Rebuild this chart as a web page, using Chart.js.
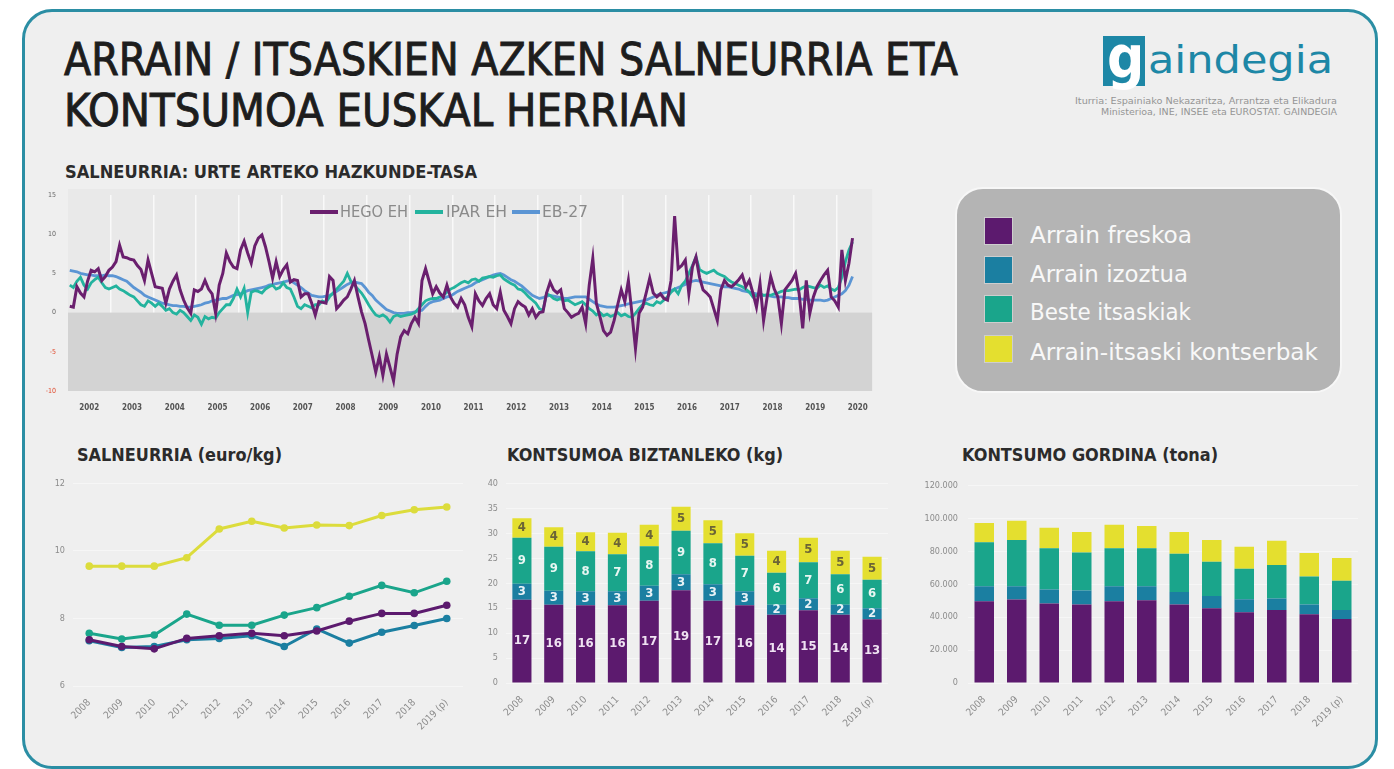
<!DOCTYPE html>
<html>
<head>
<meta charset="utf-8">
<script src="https://cdn.jsdelivr.net/npm/chart.js"></script>
<style>
  body { margin: 0; width: 1394px; height: 769px; background: #fff; overflow: hidden;
         font-family: "DejaVu Sans Condensed", "DejaVu Sans", sans-serif; }
  #card { position: absolute; left: 22px; top: 9px; width: 1350px; height: 754px;
          border: 3px solid #2b8ea4; border-radius: 30px; background: #efefef; }
  .t { position: absolute; white-space: nowrap; line-height: 1; transform-origin: 0 0; }
  .box { position: absolute; }
  .sq { position: absolute; width: 27px; height: 26px; box-shadow: 0 0 0 1px rgba(255,255,255,0.35); }
  .ln { position: absolute; height: 3px; }
</style>
</head>
<body>
<div id="card"></div>

<div class="t" data-w="894" style="left:64px;top:37px;font-size:45px;color:#1d1d1d;-webkit-text-stroke:0.9px #1d1d1d">ARRAIN / ITSASKIEN AZKEN SALNEURRIA ETA</div>
<div class="t" data-w="624" style="left:64px;top:88px;font-size:45px;color:#1d1d1d;-webkit-text-stroke:0.9px #1d1d1d">KONTSUMOA EUSKAL HERRIAN</div>

<div class="box" style="left:1103px;top:36px;width:42px;height:50px;background:#1d87a6;overflow:visible">
  <div class="t" style="left:4px;top:-7px;font-size:58px;font-weight:bold;color:#fff">g</div>
</div>
<div class="t" data-w="185" style="left:1148px;top:42px;font-size:37px;color:#1d87a6">aindegia</div>
<div class="t" data-w="262" style="left:1075px;top:98px;font-size:8px;color:#959595">Iturria: Espainiako Nekazaritza, Arrantza eta Elikadura</div>
<div class="t" data-w="236" style="left:1101px;top:109px;font-size:8px;color:#959595">Ministerioa, INE, INSEE eta EUROSTAT. GAINDEGIA</div>

<div class="t" data-w="412" style="left:65px;top:164px;font-size:17px;font-weight:bold;color:#2b2b2b">SALNEURRIA: URTE ARTEKO HAZKUNDE-TASA</div>

<div class="box" style="left:40px;top:185px;width:840px;height:234px"><canvas id="topChart"></canvas></div>

<div class="ln" style="left:310px;top:210px;width:28px;height:4px;background:#6a1f6e"></div>
<div class="t" data-w="68" style="left:340px;top:204px;font-size:16px;color:#8a8a8a">HEGO EH</div>
<div class="ln" style="left:415px;top:210px;width:28px;height:4px;background:#23b39e"></div>
<div class="t" data-w="61" style="left:446px;top:204px;font-size:16px;color:#8a8a8a">IPAR EH</div>
<div class="ln" style="left:512px;top:210px;width:28px;height:4px;background:#5b95d4"></div>
<div class="t" data-w="46" style="left:542px;top:204px;font-size:16px;color:#8a8a8a">EB-27</div>

<div class="box" style="left:955px;top:187px;width:383px;height:202px;background:#b4b4b4;border:2px solid #f7f7f7;border-radius:28px"></div>
<div class="sq" style="left:985px;top:218px;background:#5c1a6e"></div>
<div class="sq" style="left:985px;top:257px;background:#1b7fa1"></div>
<div class="sq" style="left:985px;top:296px;background:#1aa58b"></div>
<div class="sq" style="left:985px;top:336px;background:#e4df2f"></div>
<div class="t" data-w="162" style="left:1030px;top:224px;font-size:23px;color:#f8f8f8">Arrain freskoa</div>
<div class="t" data-w="158" style="left:1030px;top:263px;font-size:23px;color:#f8f8f8">Arrain izoztua</div>
<div class="t" data-w="161" style="left:1030px;top:301px;font-size:23px;color:#f8f8f8">Beste itsaskiak</div>
<div class="t" data-w="288" style="left:1030px;top:341px;font-size:23px;color:#f8f8f8">Arrain-itsaski kontserbak</div>

<div class="t" data-w="205" style="left:77px;top:446px;font-size:18px;font-weight:bold;color:#2b2b2b">SALNEURRIA (euro/kg)</div>
<div class="t" data-w="276" style="left:507px;top:446px;font-size:18px;font-weight:bold;color:#2b2b2b">KONTSUMOA BIZTANLEKO (kg)</div>
<div class="t" data-w="256" style="left:962px;top:446px;font-size:18px;font-weight:bold;color:#2b2b2b">KONTSUMO GORDINA (tona)</div>

<div class="box" style="left:40px;top:470px;width:430px;height:271px"><canvas id="priceChart"></canvas></div>
<div class="box" style="left:476px;top:470px;width:420px;height:268px"><canvas id="perCapitaChart"></canvas></div>
<div class="box" style="left:910px;top:470px;width:452px;height:268px"><canvas id="grossChart"></canvas></div>

<script>
// --- Urte arteko hazkunde-tasa (hilabetekoa, 2002-01 .. 2020-05) ---
const hegoEH = [
  0.8, 0.7, 3.3, 2.5, 2.0, 4.0, 5.4, 5.2, 5.6, 4.1, 4.6, 5.4,        // 2002
  5.8, 6.5, 8.6, 7.1, 7.0, 6.8, 6.7, 6.0, 5.5, 4.1, 6.7, 5.0,        // 2003
  3.3, 3.2, 3.1, 1.2, 3.0, 4.0, 4.8, 2.9, 1.6, 0.6, -0.1, 2.9,       // 2004
  2.7, 3.0, 4.1, 3.0, 2.4, -0.1, 3.5, 5.0, 7.6, 6.5, 5.8, 5.6,       // 2005
  8.0, 9.1, 7.6, 6.3, 8.5, 9.5, 9.9, 8.4, 6.5, 4.4, 6.5, 4.6,        // 2006
  5.5, 6.1, 3.9, 4.2, 4.1, 2.0, 2.4, 2.4, 1.2, -0.3, 1.4, 1.3,       // 2007
  1.2, 4.6, 4.1, 0.5, 1.0, 1.6, 2.0, 3.0, 4.1, 2.0, 0.1, -1.4,       // 2008
  -3.5, -5.5, -7.6, -5.6, -8.0, -5.3, -7.0, -8.7, -5.3, -3.1, -2.3, -2.7, // 2009
  -1.4, -0.6, -1.4, 4.1, 5.6, 4.0, 2.4, 3.3, 2.5, 2.0, 3.5, 2.0,     // 2010
  1.2, 0.7, 1.8, 1.0, -0.6, -1.8, 2.4, 1.5, 0.9, 1.8, 2.4, 1.0,      // 2011
  0.5, 2.6, 0.3, -0.5, -1.4, 0.5, 1.4, 1.0, 0.7, -0.3, 0.5, -0.6,    // 2012
  0.0, 0.1, 2.5, 3.9, 2.9, 2.5, 2.9, 0.5, 0.0, -0.6, -0.3, -0.1,     // 2013
  0.7, -1.4, 3.5, 6.9, 1.2, -0.5, -2.3, -2.9, -2.5, -1.0, 1.0, 2.9,  // 2014
  1.4, 4.1, -0.1, -4.6, -0.1, 0.7, 2.5, 4.4, 2.5, 2.0, 2.4, 1.8,     // 2015
  1.6, 4.1, 12.3, 5.6, 6.0, 6.7, 2.4, 5.8, 7.1, 4.5, 2.9, 2.5,       // 2016
  2.0, 0.5, -1.0, 2.9, 4.1, 3.5, 3.3, 3.7, 4.2, 4.8, 3.3, 4.1,       // 2017
  2.5, 0.7, 3.7, -1.0, 2.0, 4.6, 3.0, 2.0, -1.4, 2.9, 3.5, 4.1,      // 2018
  5.0, 2.4, -2.0, 4.1, -0.1, 2.0, 3.3, 4.1, 4.8, 5.4, 2.0, 1.5,      // 2019
  0.7, 8.0, 4.1, 6.3, 9.5                                            // 2020
];
const iparEH = [
  3.5, 3.2, 4.0, 4.5, 3.5, 3.0, 3.8, 4.2, 4.5, 3.8, 3.2, 3.0,
  3.2, 3.4, 3.0, 2.8, 2.5, 2.2, 2.0, 1.5, 1.0, 0.8, 1.5, 1.2,
  0.8, 1.2, 0.8, 0.3, 0.5, 0.0, -0.2, 0.3, 0.0, -0.5, -1.0, -0.3,
  -0.6, -1.5, -0.5, -0.8, -0.6, -0.7, 0.0, 0.5, 1.0, 1.0, 1.8, 3.0,
  2.0, 3.1, 0.0, 2.6, 2.8, 2.7, 2.5, 3.0, 3.3, 3.5, 3.0, 3.2,
  3.8, 3.2, 3.0, 2.0, 0.8, 0.5, 1.0, 0.8, 0.6, 1.0, 1.0, 1.5,
  1.3, 2.0, 2.5, 3.0, 3.5, 4.0, 5.0, 4.0, 3.5, 3.0, 2.5, 1.8,
  1.0, 0.3, -0.3, -0.5, -0.3, -0.6, -1.2, -0.5, -0.3, -0.5, -0.4, -0.3,
  -0.2, 0.0, 0.5, 1.0, 1.5, 1.7, 1.8, 1.8, 2.0, 2.2, 2.6, 3.0,
  3.2, 3.5, 3.8, 4.0, 3.8, 4.2, 4.3, 4.0, 4.4, 4.5, 4.6, 4.5,
  4.7, 4.8, 4.3, 4.0, 3.7, 3.5, 3.0, 2.9, 2.5, 2.0, 1.6, 1.2,
  0.5, 0.3, 2.4, 2.2, 1.8, 1.6, 1.8, 1.5, 1.6, 1.3, 1.0, 1.2,
  1.4, 1.0, 0.5, 0.2, -0.3, 0.0, -0.4, -0.2, -0.5, -0.3, 0.0, -0.4,
  -0.2, -0.5, -0.6, -0.1, 0.5, 1.0, 1.2, 1.0, 0.9, 1.4, 1.2, 1.6,
  2.0, 2.6, 3.0, 2.4, 3.5, 4.0, 5.0, 6.0, 7.1, 5.5, 5.2, 5.0,
  5.2, 5.4, 5.0, 4.8, 4.6, 4.2, 3.9, 3.7, 3.5, 3.3, 3.0, 2.6,
  2.0, 2.2, 2.4, 2.2, 2.3, 2.2, 2.4, 2.5, 2.7, 2.8, 2.8, 2.9,
  3.0, 2.9, 3.2, 3.4, 3.3, 3.2, 3.1, 3.5, 3.2, 3.4, 3.0, 2.8,
  3.2, 4.5, 6.5, 8.0, 9.0
];
const eb27 = [
  5.4, 5.3, 5.2, 5.0, 4.9, 4.8, 4.8, 4.7, 4.7, 4.7, 4.8, 4.7,
  4.7, 4.6, 4.4, 4.2, 4.0, 3.6, 3.2, 2.9, 2.6, 2.2, 2.0, 1.8,
  1.6, 1.4, 1.2, 1.1, 1.0, 0.9, 0.9, 0.8, 0.8, 0.7, 0.7, 0.8,
  0.9, 1.0, 1.2, 1.3, 1.5, 1.6, 1.7, 1.8, 1.8, 2.0, 2.2, 2.3,
  2.4, 2.6, 2.8, 2.9, 3.0, 3.1, 3.2, 3.3, 3.5, 3.6, 3.7, 3.8,
  3.9, 4.0, 4.1, 3.8, 3.5, 3.2, 2.8, 2.5, 2.2, 2.1, 2.0, 2.0,
  2.1, 2.2, 2.4, 2.7, 3.0, 3.3, 3.6, 3.8, 3.9, 3.8, 3.7, 3.2,
  2.6, 2.2, 1.6, 1.2, 0.8, 0.4, 0.2, 0.0, -0.1, -0.1, -0.1, 0.0,
  0.0, 0.1, 0.2, 0.3, 0.8, 1.2, 1.4, 1.5, 1.6, 1.8, 2.0, 2.1,
  2.4, 2.7, 2.9, 3.1, 3.3, 3.5, 3.8, 4.0, 4.2, 4.4, 4.6, 4.8,
  4.9, 5.0, 4.8, 4.5, 4.2, 4.0, 3.7, 3.4, 3.0, 2.6, 2.2, 2.0,
  1.8, 1.9, 2.1, 2.2, 2.1, 2.0, 1.9, 1.8, 1.8, 1.9, 2.0, 2.0,
  2.0, 2.0, 1.7, 1.4, 1.1, 0.9, 0.8, 0.7, 0.7, 0.7, 0.8, 0.9,
  1.0, 1.1, 1.2, 1.3, 1.4, 1.5, 1.6, 1.8, 2.0, 2.2, 2.4, 2.5,
  2.6, 2.8, 3.0, 3.2, 3.4, 3.6, 3.8, 4.0, 4.1, 4.0, 3.9, 3.8,
  3.7, 3.6, 3.5, 3.4, 3.3, 3.3, 3.2, 3.1, 3.0, 2.8, 2.7, 2.6,
  2.5, 2.4, 2.3, 2.2, 2.2, 2.1, 2.0, 2.0, 2.0, 1.9, 1.9, 1.8,
  1.8, 1.8, 1.7, 1.7, 1.6, 1.6, 1.6, 1.6, 1.5, 1.6, 1.8, 2.0,
  2.2, 2.4, 2.8, 3.5, 4.6
];
const firstYear = 2002;
const growthTicks = [15, 10, 5, 0, -5, -10];

// --- Beheko grafikoak ---
const years = ["2008", "2009", "2010", "2011", "2012", "2013", "2014", "2015", "2016", "2017", "2018", "2019 (p)"];

// salneurria (euro/kg)
const priceFresh  = [7.37, 7.17, 7.10, 7.41, 7.49, 7.56, 7.49, 7.63, 7.92, 8.15, 8.15, 8.39];
const priceFrozen = [7.34, 7.14, 7.17, 7.37, 7.41, 7.49, 7.17, 7.69, 7.27, 7.59, 7.79, 8.00];
const priceOther  = [7.56, 7.39, 7.51, 8.13, 7.80, 7.80, 8.10, 8.32, 8.66, 8.98, 8.76, 9.10];
const priceCanned = [9.55, 9.55, 9.55, 9.80, 10.65, 10.88, 10.68, 10.77, 10.75, 11.05, 11.22, 11.30];

// kontsumoa biztanleko (kg)
const perCapFresh  = [16.7, 15.7, 15.6, 15.6, 16.5, 18.6, 16.5, 15.6, 13.7, 14.6, 13.7, 12.8];
const perCapFrozen = [3.2, 2.8, 2.8, 2.8, 3.0, 3.2, 3.3, 2.8, 2.0, 2.4, 2.0, 2.2];
const perCapOther  = [9.2, 8.8, 8.0, 7.4, 7.9, 8.7, 8.2, 7.1, 6.4, 7.2, 6.1, 5.7];
const perCapCanned = [3.9, 3.9, 3.8, 4.3, 4.3, 4.8, 4.6, 4.5, 4.4, 4.9, 4.7, 4.6];

// kontsumo gordina (tona)
const grossFresh  = [49700, 50700, 48300, 47700, 49700, 50300, 47700, 45400, 43000, 44400, 41800, 38900];
const grossFrozen = [9100, 8100, 8500, 8500, 9100, 8500, 7500, 7500, 7900, 6900, 5900, 5500];
const grossOther  = [26600, 28000, 25100, 23100, 23100, 23100, 23300, 20700, 18500, 20300, 17000, 17700];
const grossCanned = [11800, 11800, 12400, 12400, 14200, 13400, 13200, 13200, 13400, 14800, 14200, 13800];

const PURPLE = "#5c1a6e", BLUE = "#1b7fa1", GREEN = "#1aa58b", YELLOW = "#e4df2f";
const FONT = '"DejaVu Sans Condensed", "DejaVu Sans", sans-serif';

Chart.defaults.font.family = FONT;
Chart.defaults.animation = false;
Chart.defaults.devicePixelRatio = 1;
Chart.defaults.plugins.legend.display = false;
Chart.defaults.plugins.tooltip.enabled = false;

// plot background + gray band under zero
const growthBackground = {
  id: "growthBackground",
  beforeDraw(chart) {
    const { ctx, chartArea: a } = chart;
    ctx.save();
    ctx.fillStyle = "#e9e9e9";
    ctx.fillRect(a.left, a.top - 6, a.right - a.left, a.bottom - a.top + 6);
    ctx.restore();
  },
  beforeDatasetsDraw(chart) {
    const { ctx, chartArea: a, scales } = chart;
    const y0 = scales.y.getPixelForValue(0);
    ctx.save();
    ctx.fillStyle = "#d3d3d3";
    ctx.fillRect(a.left, y0, a.right - a.left, a.bottom - y0);
    ctx.restore();
  }
};

const toMonthly = arr => arr.map((v, i) => ({ x: i + 0.5, y: v }));

new Chart(document.getElementById("topChart"), {
  type: "line",
  data: {
    datasets: [
      { label: "HEGO EH", data: toMonthly(hegoEH), borderColor: "#6a1f6e", borderWidth: 3 },
      { label: "IPAR EH", data: toMonthly(iparEH), borderColor: "#23b39e", borderWidth: 2.8 },
      { label: "EB-27", data: toMonthly(eb27), borderColor: "#5b95d4", borderWidth: 2.8 }
    ]
  },
  options: {
    responsive: true,
    maintainAspectRatio: false,
    elements: { point: { radius: 0 }, line: { tension: 0 } },
    layout: { padding: { top: 10, right: 7, left: 0, bottom: 0 } },
    scales: {
      x: {
        type: "linear",
        min: 0,
        max: 226,
        afterBuildTicks: s => {
          const t = [];
          for (let v = 0; v <= 226; v += 6) t.push({ value: v });
          s.ticks = t;
        },
        grid: {
          color: c => (c.tick && c.tick.value > 0 && c.tick.value % 12 === 0) ? "#f9f9f9" : "rgba(0,0,0,0)",
          lineWidth: 1.5,
          drawTicks: false
        },
        border: { display: false },
        ticks: {
          autoSkip: false,
          maxRotation: 0,
          padding: 12,
          color: "#555",
          font: { size: 8, weight: "bold" },
          callback: v => (v % 12 === 6) ? String(firstYear + (v - 6) / 12) : ""
        },
        afterFit: s => { s.height = 28; }
      },
      y: {
        min: -10,
        max: 15,
        afterBuildTicks: s => { s.ticks = growthTicks.map(v => ({ value: v })); },
        grid: { display: false },
        border: { display: false },
        ticks: {
          padding: 4,
          font: { size: 7 },
          color: c => c.tick.value < 0 ? "#e04a2c" : "#666"
        },
        afterFit: s => { s.width = 28; }
      }
    }
  },
  plugins: [growthBackground]
});

const bottomX = {
  offset: true,
  grid: { display: false },
  border: { display: false },
  ticks: { minRotation: 45, maxRotation: 45, autoSkip: false, color: "#8c8c8c", font: { size: 10 } },
  afterFit: s => { s.height = 55; }
};

new Chart(document.getElementById("priceChart"), {
  type: "line",
  data: {
    labels: years,
    datasets: [
      { data: priceFresh, borderColor: PURPLE, backgroundColor: PURPLE },
      { data: priceFrozen, borderColor: BLUE, backgroundColor: BLUE },
      { data: priceOther, borderColor: GREEN, backgroundColor: GREEN },
      { data: priceCanned, borderColor: "#dcdc3c", backgroundColor: "#dcdc3c" }
    ]
  },
  options: {
    responsive: true,
    maintainAspectRatio: false,
    elements: { point: { radius: 3.8, borderWidth: 0 }, line: { borderWidth: 3, tension: 0 } },
    layout: { padding: { top: 13, right: 7 } },
    scales: {
      x: bottomX,
      y: {
        min: 6, max: 12,
        ticks: { stepSize: 2, color: "#8c8c8c", font: { size: 9 }, padding: 8 },
        grid: { color: "#f6f6f6", drawTicks: false },
        border: { display: false },
        afterFit: s => { s.width = 33; }
      }
    }
  }
});

// number labels inside stacked bars
const barLabels = {
  id: "barLabels",
  afterDatasetsDraw(chart) {
    const { ctx } = chart;
    ctx.save();
    ctx.font = "bold 13px " + FONT;
    ctx.textAlign = "center";
    ctx.textBaseline = "middle";
    chart.data.datasets.forEach((ds, di) => {
      ctx.fillStyle = ds.labelColor;
      chart.getDatasetMeta(di).data.forEach((bar, i) => {
        ctx.fillText(String(Math.round(ds.data[i])), bar.x, (bar.y + bar.base) / 2);
      });
    });
    ctx.restore();
  }
};

const stackDatasets = (fresh, frozen, other, canned) => [
  { data: fresh, backgroundColor: PURPLE, labelColor: "#efe2f2" },
  { data: frozen, backgroundColor: BLUE, labelColor: "#e8f2f6" },
  { data: other, backgroundColor: GREEN, labelColor: "#e8f6f2" },
  { data: canned, backgroundColor: YELLOW, labelColor: "#6b6436" }
].map(d => Object.assign(d, { barPercentage: 0.6, categoryPercentage: 1.0 }));

new Chart(document.getElementById("perCapitaChart"), {
  type: "bar",
  data: { labels: years, datasets: stackDatasets(perCapFresh, perCapFrozen, perCapOther, perCapCanned) },
  options: {
    responsive: true,
    maintainAspectRatio: false,
    layout: { padding: { top: 13, right: 8 } },
    scales: {
      x: Object.assign({ stacked: true }, bottomX),
      y: {
        stacked: true, min: 0, max: 40,
        ticks: { stepSize: 5, color: "#8c8c8c", font: { size: 9 }, padding: 8 },
        grid: { color: "#f6f6f6", drawTicks: false },
        border: { display: false },
        afterFit: s => { s.width = 30; }
      }
    }
  },
  plugins: [barLabels]
});

const thousands = v => String(v).replace(/\B(?=(\d{3})+(?!\d))/g, ".");

new Chart(document.getElementById("grossChart"), {
  type: "bar",
  data: { labels: years, datasets: stackDatasets(grossFresh, grossFrozen, grossOther, grossCanned) },
  options: {
    responsive: true,
    maintainAspectRatio: false,
    layout: { padding: { top: 13, right: 4 } },
    scales: {
      x: Object.assign({ stacked: true }, bottomX),
      y: {
        stacked: true, min: 0, max: 120000,
        ticks: { stepSize: 20000, color: "#8c8c8c", font: { size: 9 }, padding: 10, callback: v => thousands(v) },
        grid: { color: "#f6f6f6", drawTicks: false },
        border: { display: false },
        afterFit: s => { s.width = 58; }
      }
    }
  }
});

// squeeze condensed headings to the widths they have in the poster
document.querySelectorAll("[data-w]").forEach(el => {
  const w = el.getBoundingClientRect().width;
  el.style.transform = "scaleX(" + (parseFloat(el.dataset.w) / w) + ")";
});
</script>
</body>
</html>
